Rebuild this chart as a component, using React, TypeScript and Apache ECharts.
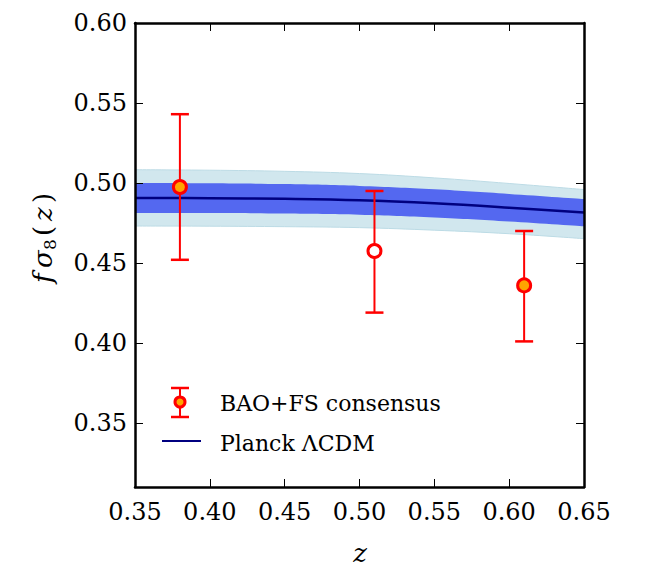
import React, { useEffect, useRef } from "react";
import * as echarts from "echarts";

// Model curve (Planck ΛCDM) sampled on a z grid
const zGrid = [0.35, 0.4, 0.45, 0.5, 0.55, 0.6, 0.65];
const modelMean = [0.4906, 0.4905, 0.4901, 0.4892, 0.4873, 0.4846, 0.4815];
const band1Lo = [0.4812, 0.4812, 0.4809, 0.4802, 0.4785, 0.476, 0.473];
const band1Hi = [0.5, 0.4998, 0.4993, 0.4982, 0.4961, 0.4932, 0.49];
const band2Lo = [0.4731, 0.473, 0.4727, 0.4721, 0.4705, 0.4683, 0.4652];
const band2Hi = [0.5083, 0.508, 0.5073, 0.5059, 0.5032, 0.4997, 0.4959];

// BAO+FS consensus measurements
const pointZ = [0.38, 0.51, 0.61];
const pointVal = [0.4975, 0.4575, 0.436];
const pointLow = [0.452, 0.419, 0.401];
const pointHigh = [0.543, 0.495, 0.47];
const pointFill = ["#FFA500", "#FFFFFF", "#FFA500"];

const yTicks = [0.35, 0.4, 0.45, 0.5, 0.55, 0.6];
const legendLabels = ["BAO+FS consensus", "Planck ΛCDM"];

const FONT = "DejaVu Serif";

export default function App() {
  const ref = useRef<HTMLDivElement>(null);
  useEffect(() => {
    if (!ref.current) return;
    const chart = echarts.init(ref.current, null, { renderer: "svg" });
    const fmt = (v: number) => v.toFixed(2);
    const tickStyle = { show: true, inside: true, length: 8, lineStyle: { color: "#000", width: 1 } };
    const lineAxis = { show: true, lineStyle: { color: "#000", width: 2.5 } };

    // each edge filled down to the axis minimum; later layers cover earlier ones
    const edge = (vals: number[], fill: string, stroke: string, w: number) => ({
      type: "line", smooth: 0.4, symbol: "none", silent: true,
      data: zGrid.map((z, i) => [z, vals[i]]),
      lineStyle: { color: stroke, width: w },
      areaStyle: { color: fill, opacity: 1, origin: "start" },
    });

    const option: any = {
      animation: false,
      grid: { left: 135, top: 23, right: 62, bottom: 84, containLabel: false },
      xAxis: [
        {
          type: "value", min: 0.35, max: 0.65, interval: 0.05, position: "bottom", z: 10,
          axisLine: lineAxis, axisTick: tickStyle, splitLine: { show: false },
          axisLabel: { formatter: fmt, fontFamily: FONT, fontSize: 24, color: "#000", margin: 13 },
        },
        {
          type: "value", min: 0.35, max: 0.65, interval: 0.05, position: "top", z: 10,
          axisLine: lineAxis, axisTick: tickStyle, splitLine: { show: false },
          axisLabel: { show: false },
        },
      ],
      yAxis: [
        {
          type: "value", min: 0.31, max: 0.6, position: "left", z: 10,
          axisLine: lineAxis,
          axisTick: { ...tickStyle, customValues: yTicks },
          splitLine: { show: false },
          axisLabel: { customValues: yTicks, formatter: fmt, fontFamily: FONT, fontSize: 24, color: "#000", margin: 8 },
        },
        {
          type: "value", min: 0.31, max: 0.6, position: "right", z: 10,
          axisLine: lineAxis,
          axisTick: { ...tickStyle, customValues: yTicks },
          splitLine: { show: false },
          axisLabel: { show: false, customValues: yTicks },
        },
      ],
      series: [
        edge(band2Hi, "#D1E7EE", "#BCDBE5", 1),
        edge(band1Hi, "#5468F0", "#5468F0", 0),
        edge(band1Lo, "#D1E7EE", "#5468F0", 0),
        edge(band2Lo, "#FFFFFF", "#BCDBE5", 1),
        {
          type: "line", smooth: 0.4, symbol: "none", silent: true,
          data: zGrid.map((z, i) => [z, modelMean[i]]),
          lineStyle: { color: "#000080", width: 2.5 },
        },
        {
          type: "custom",
          z: 5,
          data: pointZ.map((z, i) => [z, pointLow[i], pointHigh[i]]),
          encode: { x: 0, y: [1, 2] },
          renderItem: (_p: any, api: any) => {
            const x = api.value(0);
            const pLo = api.coord([x, api.value(1)]);
            const pHi = api.coord([x, api.value(2)]);
            const cap = 9;
            const s = { stroke: "#FF0000", lineWidth: 2 };
            const c = { stroke: "#FF0000", lineWidth: 2.5 };
            return {
              type: "group",
              children: [
                { type: "line", shape: { x1: pLo[0], y1: pLo[1], x2: pHi[0], y2: pHi[1] }, style: s },
                { type: "line", shape: { x1: pLo[0] - cap, y1: pLo[1], x2: pLo[0] + cap, y2: pLo[1] }, style: c },
                { type: "line", shape: { x1: pHi[0] - cap, y1: pHi[1], x2: pHi[0] + cap, y2: pHi[1] }, style: c },
              ],
            };
          },
        },
        {
          type: "scatter",
          z: 6,
          symbol: "circle",
          symbolSize: 13,
          data: pointZ.map((z, i) => ({ value: [z, pointVal[i]], itemStyle: { color: pointFill[i] } })),
          itemStyle: { borderColor: "#FF0000", borderWidth: 3, opacity: 1 },
        },
      ],
      graphic: [
        // y-axis label: f σ_8 (z)
        {
          type: "group", x: 43, y: 233, rotation: Math.PI / 2,
          children: [
            { type: "text", x: -50, y: 0, style: { text: "f", font: `italic 26px ${FONT}`, fill: "#000", verticalAlign: "middle", align: "left" } },
            { type: "text", x: -35, y: 0, style: { text: "σ", font: `italic 26px ${FONT}`, fill: "#000", verticalAlign: "middle", align: "left" } },
            { type: "text", x: -17, y: 7, style: { text: "8", font: `17px ${FONT}`, fill: "#000", verticalAlign: "middle", align: "left" } },
            { type: "text", x: -3, y: 0, style: { text: "(", font: `26px ${FONT}`, fill: "#000", verticalAlign: "middle", align: "left" } },
            { type: "text", x: 12, y: 0, style: { text: "z", font: `italic 26px ${FONT}`, fill: "#000", verticalAlign: "middle", align: "left" } },
            { type: "text", x: 30, y: 0, style: { text: ")", font: `26px ${FONT}`, fill: "#000", verticalAlign: "middle", align: "left" } },
          ],
        },
        // x-axis label
        { type: "text", x: 360, y: 553, style: { text: "z", font: `italic 26px ${FONT}`, fill: "#000", align: "center", verticalAlign: "middle" } },
        // legend: error bar icon
        { type: "line", shape: { x1: 180, y1: 388, x2: 180, y2: 417 }, style: { stroke: "#FF0000", lineWidth: 2 }, z: 20 },
        { type: "line", shape: { x1: 171, y1: 388, x2: 189, y2: 388 }, style: { stroke: "#FF0000", lineWidth: 2.5 }, z: 20 },
        { type: "line", shape: { x1: 171, y1: 417, x2: 189, y2: 417 }, style: { stroke: "#FF0000", lineWidth: 2.5 }, z: 20 },
        { type: "circle", shape: { cx: 180, cy: 402, r: 5 }, style: { fill: "#FFA500", stroke: "#FF0000", lineWidth: 3 }, z: 21 },
        { type: "text", x: 220, y: 403, style: { text: legendLabels[0], font: `22px ${FONT}`, fill: "#000", verticalAlign: "middle", align: "left" }, z: 20 },
        // legend: line icon
        { type: "line", shape: { x1: 162, y1: 441, x2: 201, y2: 441 }, style: { stroke: "#000080", lineWidth: 2 }, z: 20 },
        { type: "text", x: 220, y: 443, style: { text: legendLabels[1], font: `22px ${FONT}`, fill: "#000", verticalAlign: "middle", align: "left" }, z: 20 },
      ],
    };
    chart.setOption(option);
    return () => chart.dispose();
  }, []);
  return <div ref={ref} style={{ width: 646, height: 571, position: "absolute", left: 0, top: 0 }} />;
}
